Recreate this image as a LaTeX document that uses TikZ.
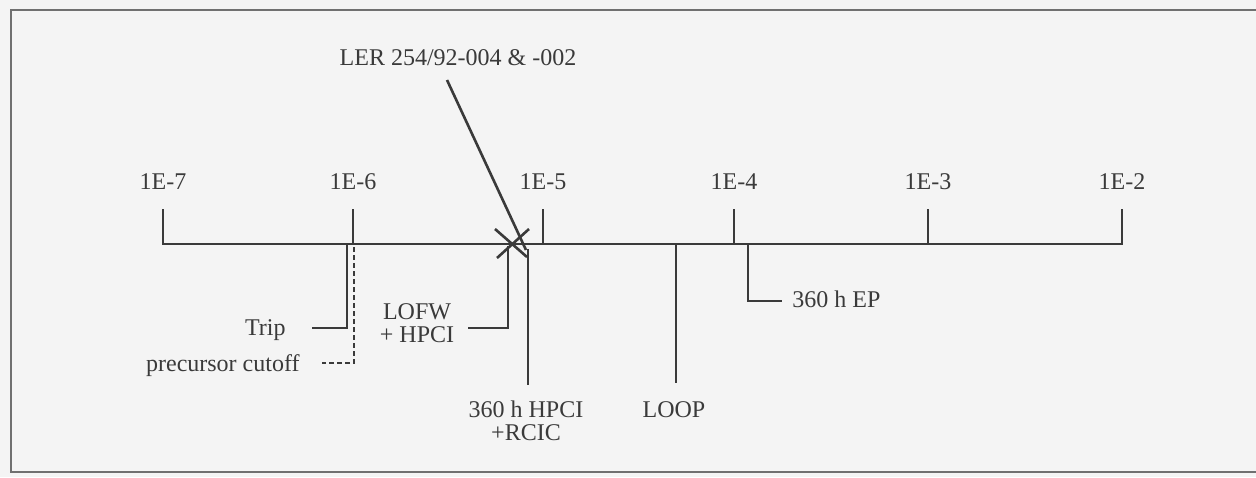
\documentclass[tikz,border=0pt]{standalone}
\usepackage{fontspec}
\setmainfont{Liberation Serif}
\definecolor{ink}{HTML}{3A3A3A}
\definecolor{paper}{HTML}{F4F4F4}
\definecolor{framec}{HTML}{707070}
\begin{document}
\begin{tikzpicture}[x=0.5pt,y=-0.5pt,
  lbl/.style={font=\fontsize{12}{11.5}\selectfont, text=ink, inner sep=0pt, align=center},
  axisline/.style={draw=ink, line width=1.4pt},
  lead/.style={draw=ink, line width=1.3pt},
  cutoff/.style={draw=ink, line width=1pt, dash pattern=on 2.5pt off 1.5pt}]
\fill[paper] (0,0) rectangle (1256,477);
\useasboundingbox (0,0) rectangle (1256,477);
% frame (open at the right, cropped)
\draw[framec, line width=0.9pt] (1256,10) -- (11,10) -- (11,472) -- (1256,472);
% axis ticks and labels
\foreach \x/\n/\t in {163/a/1E-7, 353/b/1E-6, 543/c/1E-5, 734/d/1E-4, 928/e/1E-3, 1122/f/1E-2} {
  \coordinate (base\n) at (\x,244);
  \coordinate (top\n) at (\x,209);
  \node[lbl] (lab\n) at (\x,182) {\t};
  \draw[axisline] (base\n) -- (top\n);
}
\draw[axisline, line cap=rect] (basea) -- (basef);
% LER leader and cross
\node[lbl] (ler) at (458,58) {LER 254/92-004 \& -002};
\coordinate (lerS) at (447,80);
\coordinate (lerE) at (526,250);
\draw[lead] (lerS) -- (lerE);
\coordinate (xm) at (512,244);
\draw[lead] ([shift={(-17,-15)}]xm) -- ([shift={(15,13)}]xm);
\draw[lead] ([shift={(17,-15)}]xm) -- ([shift={(-15,14)}]xm);
% Trip
\coordinate (tripA) at (347,244);
\coordinate (tripC) at (312,328);
\draw[lead] (tripA) |- (tripC);
\node[lbl, anchor=east] (trip) at (286,330) {Trip};
% precursor cutoff
\coordinate (precA) at (354,247);
\coordinate (precC) at (322,363);
\draw[cutoff] (precA) |- (precC);
\node[lbl, anchor=east] (prec) at (300,366) {precursor cutoff};
% LOFW + HPCI
\coordinate (lofwA) at (508,246);
\coordinate (lofwC) at (468,328);
\draw[lead] (lofwA) |- (lofwC);
\node[lbl] (lofw) at (417,323) {LOFW\\+ HPCI};
% 360 h HPCI + RCIC
\coordinate (hpciA) at (528,249);
\coordinate (hpciB) at (528,385);
\draw[lead] (hpciA) -- (hpciB);
\node[lbl] (hpci) at (526,421) {360 h HPCI\\+RCIC};
% LOOP
\coordinate (loopA) at (676,244);
\coordinate (loopB) at (676,383);
\draw[lead] (loopA) -- (loopB);
\node[lbl] (loop) at (674,410) {LOOP};
% 360 h EP
\coordinate (epA) at (748,244);
\coordinate (epC) at (782,301);
\draw[lead] (epA) |- (epC);
\node[lbl, anchor=west] (ep) at (792,299) {360 h EP};
\end{tikzpicture}
\end{document}
